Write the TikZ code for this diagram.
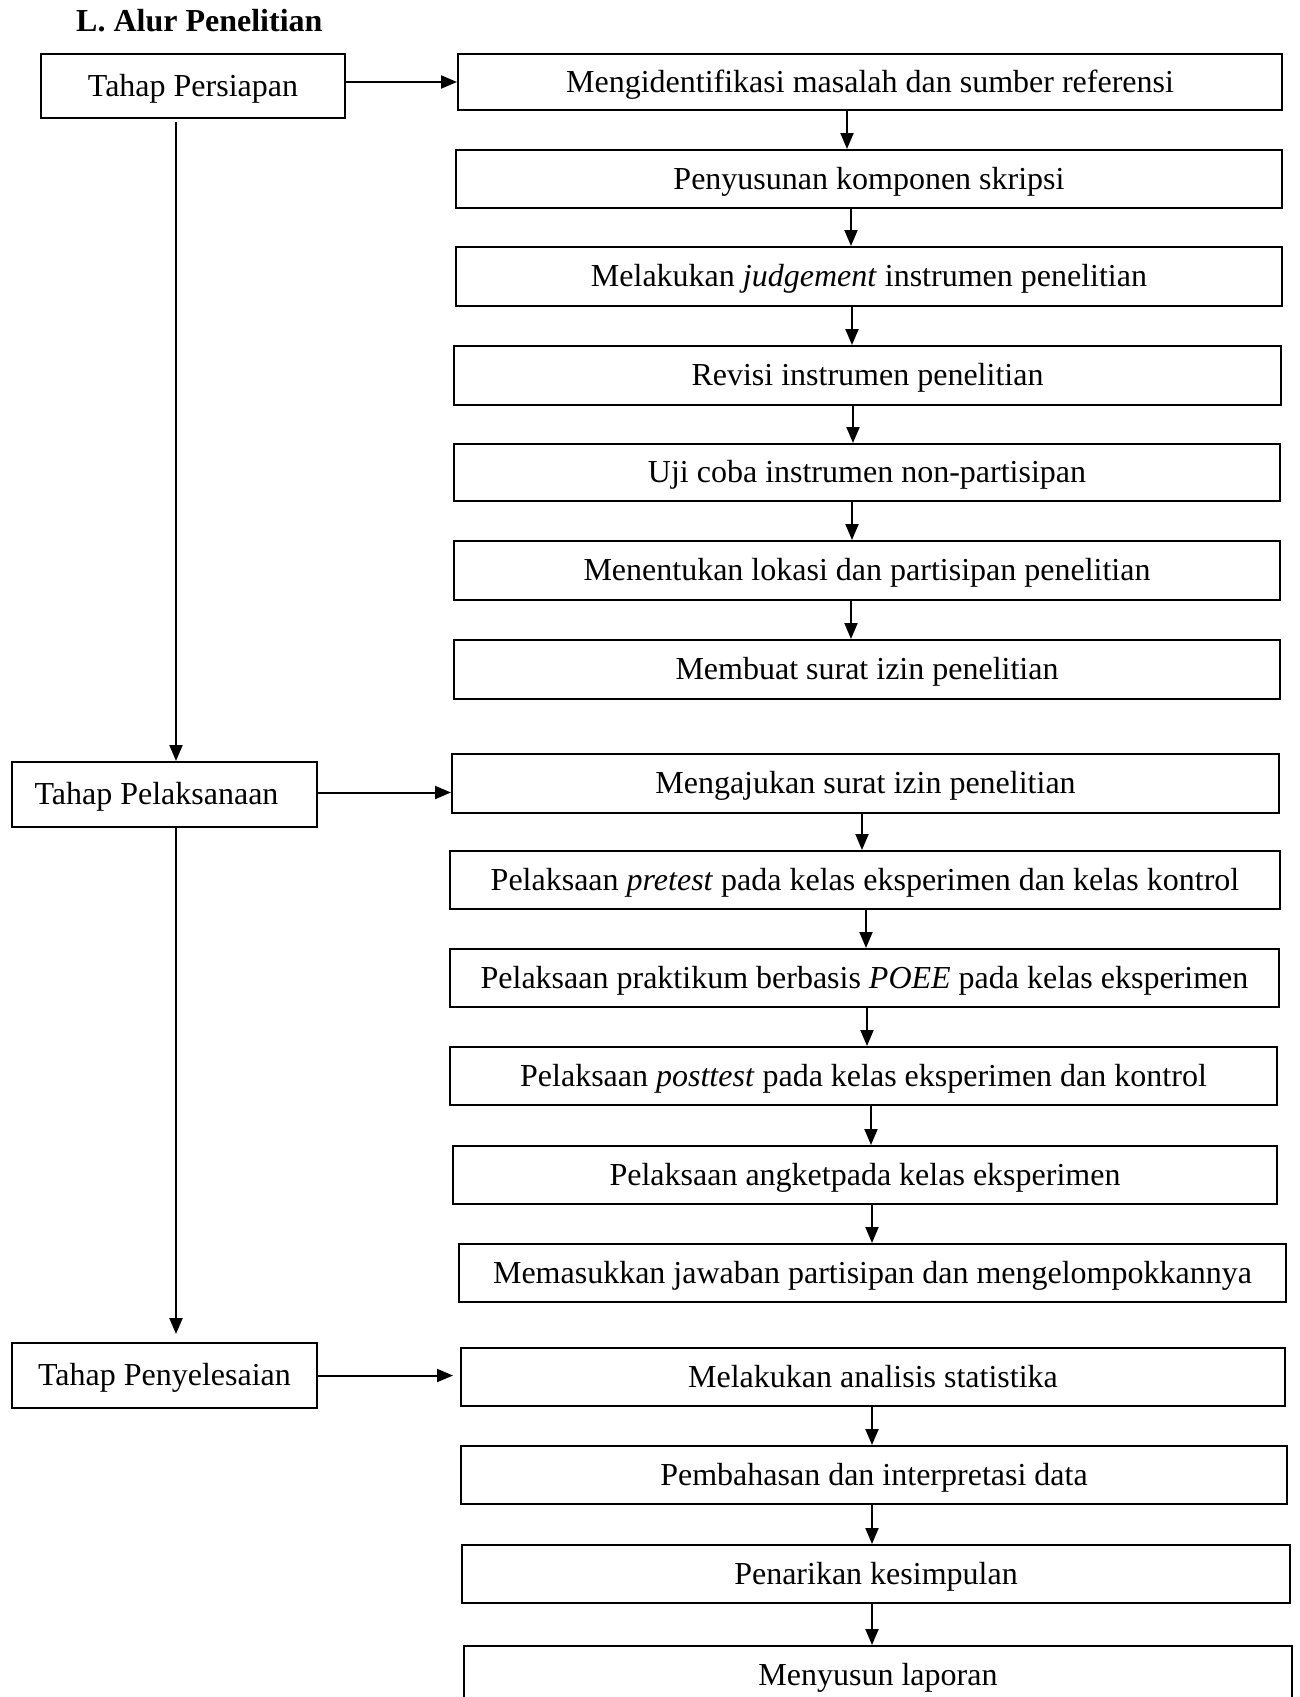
\documentclass[tikz,border=0pt]{standalone}
\usepackage{fontspec}
\setmainfont{Liberation Serif}
\usetikzlibrary{arrows.meta}
\tikzset{
  boxnode/.style={draw=black, line width=2pt, rectangle, inner sep=0pt,
    font=\fontsize{32}{38}\selectfont, text height=22pt, text depth=2pt},
  arr/.style={draw=black, line width=2pt, -{Triangle[length=16pt,width=13pt]}},
}
\begin{document}
\begin{tikzpicture}[x=1pt,y=-1pt]
\useasboundingbox (0,0) rectangle (1299,1697);
\fill[white] (0,0) rectangle (1299,1697);

\node[anchor=base west, inner sep=0pt, font=\fontsize{32}{38}\selectfont\bfseries] (title) at (76,31) {L. Alur Penelitian};

% left stage boxes
\node[boxnode, minimum width=304pt, minimum height=64pt] (p1) at (193,86) {Tahap Persiapan};
\node[boxnode, minimum width=305pt, minimum height=65pt] (p2) at (164.5,794.5) {Tahap Pelaksanaan\hspace*{16pt}};
\node[boxnode, minimum width=305pt, minimum height=65pt] (p3) at (164.5,1375.5) {Tahap Penyelesaian};

% right column boxes
\node[boxnode, minimum width=824pt, minimum height=56pt] (b1) at (870,82) {Mengidentifikasi masalah dan sumber referensi};
\node[boxnode, minimum width=826pt, minimum height=58pt] (b2) at (869,179) {Penyusunan komponen skripsi};
\node[boxnode, minimum width=826pt, minimum height=59pt] (b3) at (869,276.5) {Melakukan \textit{judgement} instrumen penelitian};
\node[boxnode, minimum width=827pt, minimum height=59pt] (b4) at (867.5,375.5) {Revisi instrumen penelitian};
\node[boxnode, minimum width=826pt, minimum height=57pt] (b5) at (867,472.5) {Uji coba instrumen non-partisipan};
\node[boxnode, minimum width=826pt, minimum height=59pt] (b6) at (867,570.5) {Menentukan lokasi dan partisipan penelitian};
\node[boxnode, minimum width=826pt, minimum height=59pt] (b7) at (867,669.5) {Membuat surat izin penelitian};

\node[boxnode, minimum width=827pt, minimum height=59pt] (b8) at (865.5,783.5) {Mengajukan surat izin penelitian};
\node[boxnode, minimum width=830pt, minimum height=58pt] (b9) at (865,880) {Pelaksaan \textit{pretest} pada kelas eksperimen dan kelas kontrol};
\node[boxnode, minimum width=829pt, minimum height=58pt] (b10) at (864.5,978) {Pelaksaan praktikum berbasis \textit{POEE} pada kelas eksperimen};
\node[boxnode, minimum width=827pt, minimum height=58pt] (b11) at (863.5,1076) {Pelaksaan \textit{posttest} pada kelas eksperimen dan kontrol};
\node[boxnode, minimum width=824pt, minimum height=58pt] (b12) at (865,1175) {Pelaksaan angketpada kelas eksperimen};
\node[boxnode, minimum width=827pt, minimum height=58pt] (b13) at (872.5,1273) {Memasukkan jawaban partisipan dan mengelompokkannya};

\node[boxnode, minimum width=824pt, minimum height=58pt] (b14) at (873,1377) {Melakukan analisis statistika};
\node[boxnode, minimum width=826pt, minimum height=58pt] (b15) at (874,1475) {Pembahasan dan interpretasi data};
\node[boxnode, minimum width=828pt, minimum height=58pt] (b16) at (876,1574) {Penarikan kesimpulan};
\node[boxnode, minimum width=828pt, minimum height=58pt] (b17) at (878,1675) {Menyusun laporan};

% helper x positions
\coordinate (vx) at (176,0);
\coordinate (a847) at (847,0);
\coordinate (a851) at (851,0);
\coordinate (a852) at (852,0);
\coordinate (a853) at (853,0);
\coordinate (a862) at (862,0);
\coordinate (a866) at (866,0);
\coordinate (a867) at (867,0);
\coordinate (a871) at (871,0);
\coordinate (a872) at (872,0);

% stage connectors
\draw[arr] ([yshift=-3pt]p1.south -| vx) -- (p2.north -| vx);
\draw[arr] (p2.south -| vx) -- ([yshift=8pt]p3.north -| vx);

\draw[arr] (p1.east |- b1.west) -- (b1.west);
\draw[arr] ([yshift=2pt]p2.east) -- ([yshift=2pt]p2.east -| b8.west);
\draw[arr] (p3.east) -- ([xshift=-7pt]p3.east -| b14.west);

% right column connectors
\draw[arr] (b1.south -| a847) -- (b2.north -| a847);
\draw[arr] (b2.south -| a851) -- (b3.north -| a851);
\draw[arr] (b3.south -| a852) -- (b4.north -| a852);
\draw[arr] (b4.south -| a853) -- (b5.north -| a853);
\draw[arr] (b5.south -| a852) -- (b6.north -| a852);
\draw[arr] (b6.south -| a851) -- (b7.north -| a851);

\draw[arr] (b8.south -| a862) -- (b9.north -| a862);
\draw[arr] (b9.south -| a866) -- (b10.north -| a866);
\draw[arr] (b10.south -| a867) -- (b11.north -| a867);
\draw[arr] (b11.south -| a871) -- (b12.north -| a871);
\draw[arr] (b12.south -| a872) -- (b13.north -| a872);

\draw[arr] (b14.south -| a872) -- (b15.north -| a872);
\draw[arr] (b15.south -| a872) -- (b16.north -| a872);
\draw[arr] (b16.south -| a872) -- (b17.north -| a872);
\end{tikzpicture}
\end{document}
